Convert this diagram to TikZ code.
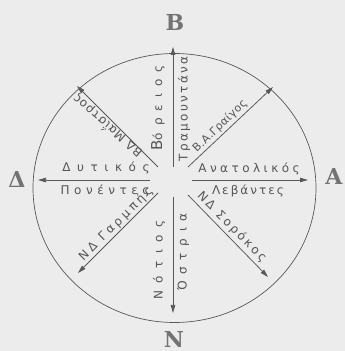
\documentclass[tikz,border=0pt]{standalone}
\usepackage{fontspec}
\usetikzlibrary{arrows.meta}
\newfontfamily\grf{DejaVu Sans}
\newfontfamily\bigf{DejaVu Serif}
\definecolor{bgc}{RGB}{236,236,236}
\definecolor{inkc}{RGB}{88,88,88}
\definecolor{txtc}{RGB}{85,85,85}
\definecolor{bigc}{RGB}{115,115,115}
\tikzset{
  ray/.style={draw=inkc, line width=0.75pt, -{Triangle[length=8pt,width=4.5pt]}},
  wind/.style={inner sep=0pt, text=txtc, font={\grf\fontsize{12}{12}\selectfont\addfontfeature{LetterSpace=#1}}},
  smallwind/.style={inner sep=0pt, text=txtc, font={\grf\fontsize{11}{11}\selectfont\addfontfeature{LetterSpace=#1}}},
  cardinal/.style={inner sep=0pt, text=bigc, font={\bigf\bfseries\fontsize{22}{22}\selectfont}}
}
\newcommand{\initialcap}[1]{{\fontsize{15}{15}\selectfont #1}}
\begin{document}
\begin{tikzpicture}[x=1pt,y=1pt]
\useasboundingbox[fill=bgc] (0,0) rectangle (345,351);
\draw[inkc, line width=0.7pt] (174.5,163) ellipse [x radius=141.5, y radius=134.5];
% arrow ends
\coordinate (nA) at (173,184); \coordinate (nB) at (173,304);
\coordinate (sA) at (173,154); \coordinate (sB) at (173,38);
\coordinate (eA) at (192,171); \coordinate (eB) at (308,171);
\coordinate (wA) at (150,171); \coordinate (wB) at (38,171);
\coordinate (neA) at (188,184); \coordinate (neB) at (273,264);
\coordinate (nwA) at (158,184); \coordinate (nwB) at (77,265);
\coordinate (swA) at (158,158); \coordinate (swB) at (78,78);
\coordinate (seA) at (188,156); \coordinate (seB) at (268,74);
\draw[ray] (nA) -- (nB);
\draw[ray] (sA) -- (sB);
\draw[ray] (eA) -- (eB);
\draw[ray] (wA) -- (wB);
\draw[ray] (neA) -- (neB);
\draw[ray] (nwA) -- (nwB);
\draw[ray] (swA) -- (swB);
\draw[ray] (seA) -- (seB);
% cardinal letters
\node[cardinal] (B) at (175,329) {Β};
\node[cardinal] (D) at (17,172) {Δ};
\node[cardinal] (A) at (334,175) {Α};
\node[cardinal] (N) at (174,12) {Ν};
% wind names
\node[wind=58, rotate=90] (bor) at (158,243) {\initialcap{Β}όρειος};
\node[wind=20, rotate=90] (tra) at (184,242) {Τραμουντάνα};
\node[wind=62, rotate=90] (not) at (159,91) {Νότιος};
\node[wind=56, rotate=90] (ost) at (183,99) {Όστρια};
\node[wind=55] (dyt) at (106,183) {Δυτικός};
\node[wind=38] (pon) at (105,160) {Πονέντες};
\node[wind=29] (ana) at (249,182) {Ανατολικός};
\node[wind=17] (leb) at (248,160) {Λεβάντες};
\node[smallwind=4, rotate=44] (gre) at (220,225) {Β.Α.Γραίγος};
\node[wind=8, rotate=139] (mai) at (107,225) {ΒΔ Μαΐστρος};
\node[wind=27, rotate=45] (gar) at (116,127) {ΝΔ Γαρμπής};
\node[wind=21, rotate=-45] (sor) at (232,124) {ΝΔ Σορόκος};
\end{tikzpicture}
\end{document}
